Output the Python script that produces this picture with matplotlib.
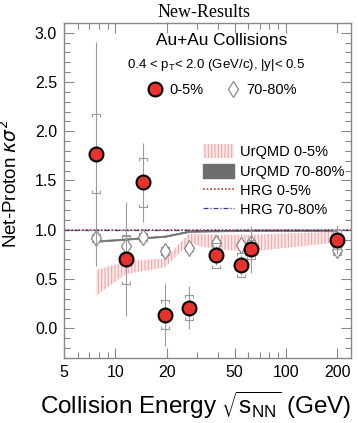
import numpy as np
import matplotlib.pyplot as plt
from matplotlib.path import Path
from matplotlib.patches import Patch
from matplotlib.lines import Line2D
from matplotlib.ticker import FixedLocator, NullFormatter, MultipleLocator

plt.rcParams['font.family'] = ['Liberation Sans', 'DejaVu Sans']
plt.rcParams['hatch.linewidth'] = 0.8

# Net-proton kappa*sigma^2, 0-5% central
energy = [7.7, 11.5, 14.5, 19.6, 27, 39, 54.4, 62.4, 200]
central = [1.77, 0.70, 1.48, 0.14, 0.21, 0.74, 0.64, 0.80, 0.90]
central_stat = [1.14, 0.58, 0.40, 0.32, 0.22, 0.10, 0.10, 0.24, 0.15]
central_sys = [0.40, 0.25, 0.25, 0.15, 0.13, 0.13, 0.12, 0.10, 0.10]

# 70-80% peripheral
peripheral = [0.92, 0.84, 0.93, 0.78, 0.81, 0.87, 0.85, 0.87, 0.79]
peripheral_stat = [0.06, 0.08, 0.05, 0.05, 0.04, 0.04, 0.04, 0.03, 0.08]
peripheral_sys = [0.04, 0.10, 0.04, 0.04, 0.03, 0.03, 0.03, 0.03, 0.05]

# UrQMD bands
urqmd_e = [7.7, 11.5, 19.6, 27, 39, 62.4, 200]
urqmd_c_lo = [0.33, 0.55, 0.62, 0.86, 0.80, 0.78, 0.87]
urqmd_c_hi = [0.59, 0.68, 0.71, 0.96, 0.95, 0.95, 0.98]
urqmd_p_lo = [0.878, 0.898, 0.928, 0.978, 0.983, 0.988, 0.988]
urqmd_p_hi = [0.892, 0.912, 0.942, 0.992, 0.997, 1.002, 1.002]

# HRG baselines
hrg_e = [5, 240]
hrg_c = [1.0, 1.0]
hrg_p = [1.0, 1.0]

x_major = [5, 10, 20, 50, 100, 200]
x_minor = [6, 7, 8, 9, 30, 40, 60, 70, 80, 90]

# bracket-shaped markers for systematic errors
cap_top = Path([(-1, -0.7), (-1, 0), (1, 0), (1, -0.7)],
               [Path.MOVETO, Path.LINETO, Path.LINETO, Path.LINETO])
cap_bot = Path([(-1, 0.7), (-1, 0), (1, 0), (1, 0.7)],
               [Path.MOVETO, Path.LINETO, Path.LINETO, Path.LINETO])

err_col = '#9a9a9a'
red = '#e8322b'

fig = plt.figure(figsize=(3.58, 4.23), dpi=100)
ax = fig.add_axes([0.179, 0.154, 0.801, 0.792])
ax.set_xscale('log')

# UrQMD 0-5% hatched band
ax.fill_between(urqmd_e, urqmd_c_lo, urqmd_c_hi, facecolor='#fdeaea',
                edgecolor='#f2a3a3', hatch='|||||', linewidth=0, zorder=1)
# UrQMD 70-80% gray band
ax.fill_between(urqmd_e, urqmd_p_lo, urqmd_p_hi, facecolor='#6e6e6e',
                edgecolor='#6e6e6e', linewidth=0.5, zorder=2)

# HRG lines
ax.plot(hrg_e, hrg_c, ls=(0, (1, 1.2)), color='#c0392b', lw=1.2, zorder=2)
ax.plot(hrg_e, hrg_p, ls=(0, (4, 1.5, 1, 1.5)), color='#3a3a8c', lw=0.9, zorder=2)

e = np.array(energy)

# peripheral: errors and open diamonds
p = np.array(peripheral)
ax.vlines(e, p - peripheral_stat, p + peripheral_stat, color=err_col, lw=0.8, zorder=3)
ax.plot(e, p + peripheral_sys, ls='none', marker=cap_top, ms=6, mfc='none',
        mec=err_col, mew=0.8, zorder=3)
ax.plot(e, p - peripheral_sys, ls='none', marker=cap_bot, ms=6, mfc='none',
        mec=err_col, mew=0.8, zorder=3)
ax.plot(e, p, ls='none', marker='d', ms=8, mfc='white', mec='#8a8a8a', mew=0.9, zorder=4)

# central: errors and filled circles
c = np.array(central)
ax.vlines(e, c - central_stat, c + central_stat, color=err_col, lw=0.8, zorder=5)
ax.plot(e, c + central_sys, ls='none', marker=cap_top, ms=6, mfc='none',
        mec=err_col, mew=0.8, zorder=5)
ax.plot(e, c - central_sys, ls='none', marker=cap_bot, ms=6, mfc='none',
        mec=err_col, mew=0.8, zorder=5)
ax.plot(e, c, ls='none', marker='o', ms=10, mfc=red, mec='black', mew=1.5, zorder=6)

ax.set_xlim(5, 240)
ax.set_ylim(-0.3, 3.1)

ax.xaxis.set_major_locator(FixedLocator(x_major))
ax.xaxis.set_minor_locator(FixedLocator(x_minor))
ax.xaxis.set_minor_formatter(NullFormatter())
ax.set_xticklabels([str(v) for v in x_major])
ax.yaxis.set_major_locator(MultipleLocator(0.5))
ax.yaxis.set_minor_locator(MultipleLocator(0.1))
ax.set_yticks([0.0, 0.5, 1.0, 1.5, 2.0, 2.5, 3.0])
ax.set_yticklabels(['0.0', '0.5', '1.0', '1.5', '2.0', '2.5', '3.0'])

ax.tick_params(which='both', direction='in', top=True, right=True, color='#888888',
               labelsize=11.5, pad=5)
ax.tick_params(which='major', length=7, width=0.8)
ax.tick_params(which='minor', length=4, width=0.8)
for s in ax.spines.values():
    s.set_color('#888888')
    s.set_linewidth(1.0)

ax.set_xlabel(r'Collision Energy $\sqrt{\mathregular{s}_{\mathregular{NN}}}$ (GeV)',
              fontsize=17.5)
ax.xaxis.set_label_coords(0.46, -0.095)
ax.set_ylabel(r'Net-Proton $\kappa\sigma^2$', fontsize=13.5)
ax.yaxis.set_label_coords(-0.15, 0.52)

fig.text(0.57, 0.970, 'New-Results', family='Liberation Serif', fontsize=13,
         ha='center', va='center')
ax.text(0.55, 0.946, 'Au+Au Collisions', transform=ax.transAxes, fontsize=12.4,
        ha='center', va='center')
ax.text(0.53, 0.875, r'0.4 < p$_\mathregular{T}$< 2.0 (GeV/c), |y|< 0.5',
        transform=ax.transAxes, fontsize=9.5, ha='center', va='center')

top_handles = [
    Line2D([], [], ls='none', marker='o', ms=10, mfc=red, mec='black', mew=1.5),
    Line2D([], [], ls='none', marker='d', ms=8, mfc='white', mec='#8a8a8a', mew=0.9),
]
leg1 = ax.legend(top_handles, ['0-5%', '70-80%'], ncol=2, frameon=False,
                 loc='center', bbox_to_anchor=(0.55, 0.80), fontsize=10.5,
                 handletextpad=0.35, columnspacing=1.4, handlelength=1.2)
ax.add_artist(leg1)

model_handles = [
    Patch(facecolor='#fdeaea', edgecolor='#f2a3a3', hatch='|||||', linewidth=0),
    Patch(facecolor='#6e6e6e', edgecolor='#6e6e6e'),
    Line2D([], [], ls=(0, (1, 1.2)), color='#c0392b', lw=1.2),
    Line2D([], [], ls=(0, (4, 1.5, 1, 1.5)), color='#3a3a8c', lw=0.9),
]
ax.legend(model_handles, ['UrQMD 0-5%', 'UrQMD 70-80%', 'HRG 0-5%', 'HRG 70-80%'],
          frameon=False, loc='upper left', bbox_to_anchor=(0.465, 0.655), fontsize=10.5,
          handlelength=2.1, handleheight=1.1, handletextpad=0.4, labelspacing=0.3,
          borderaxespad=0)

fig.savefig('out.png', dpi=100)
